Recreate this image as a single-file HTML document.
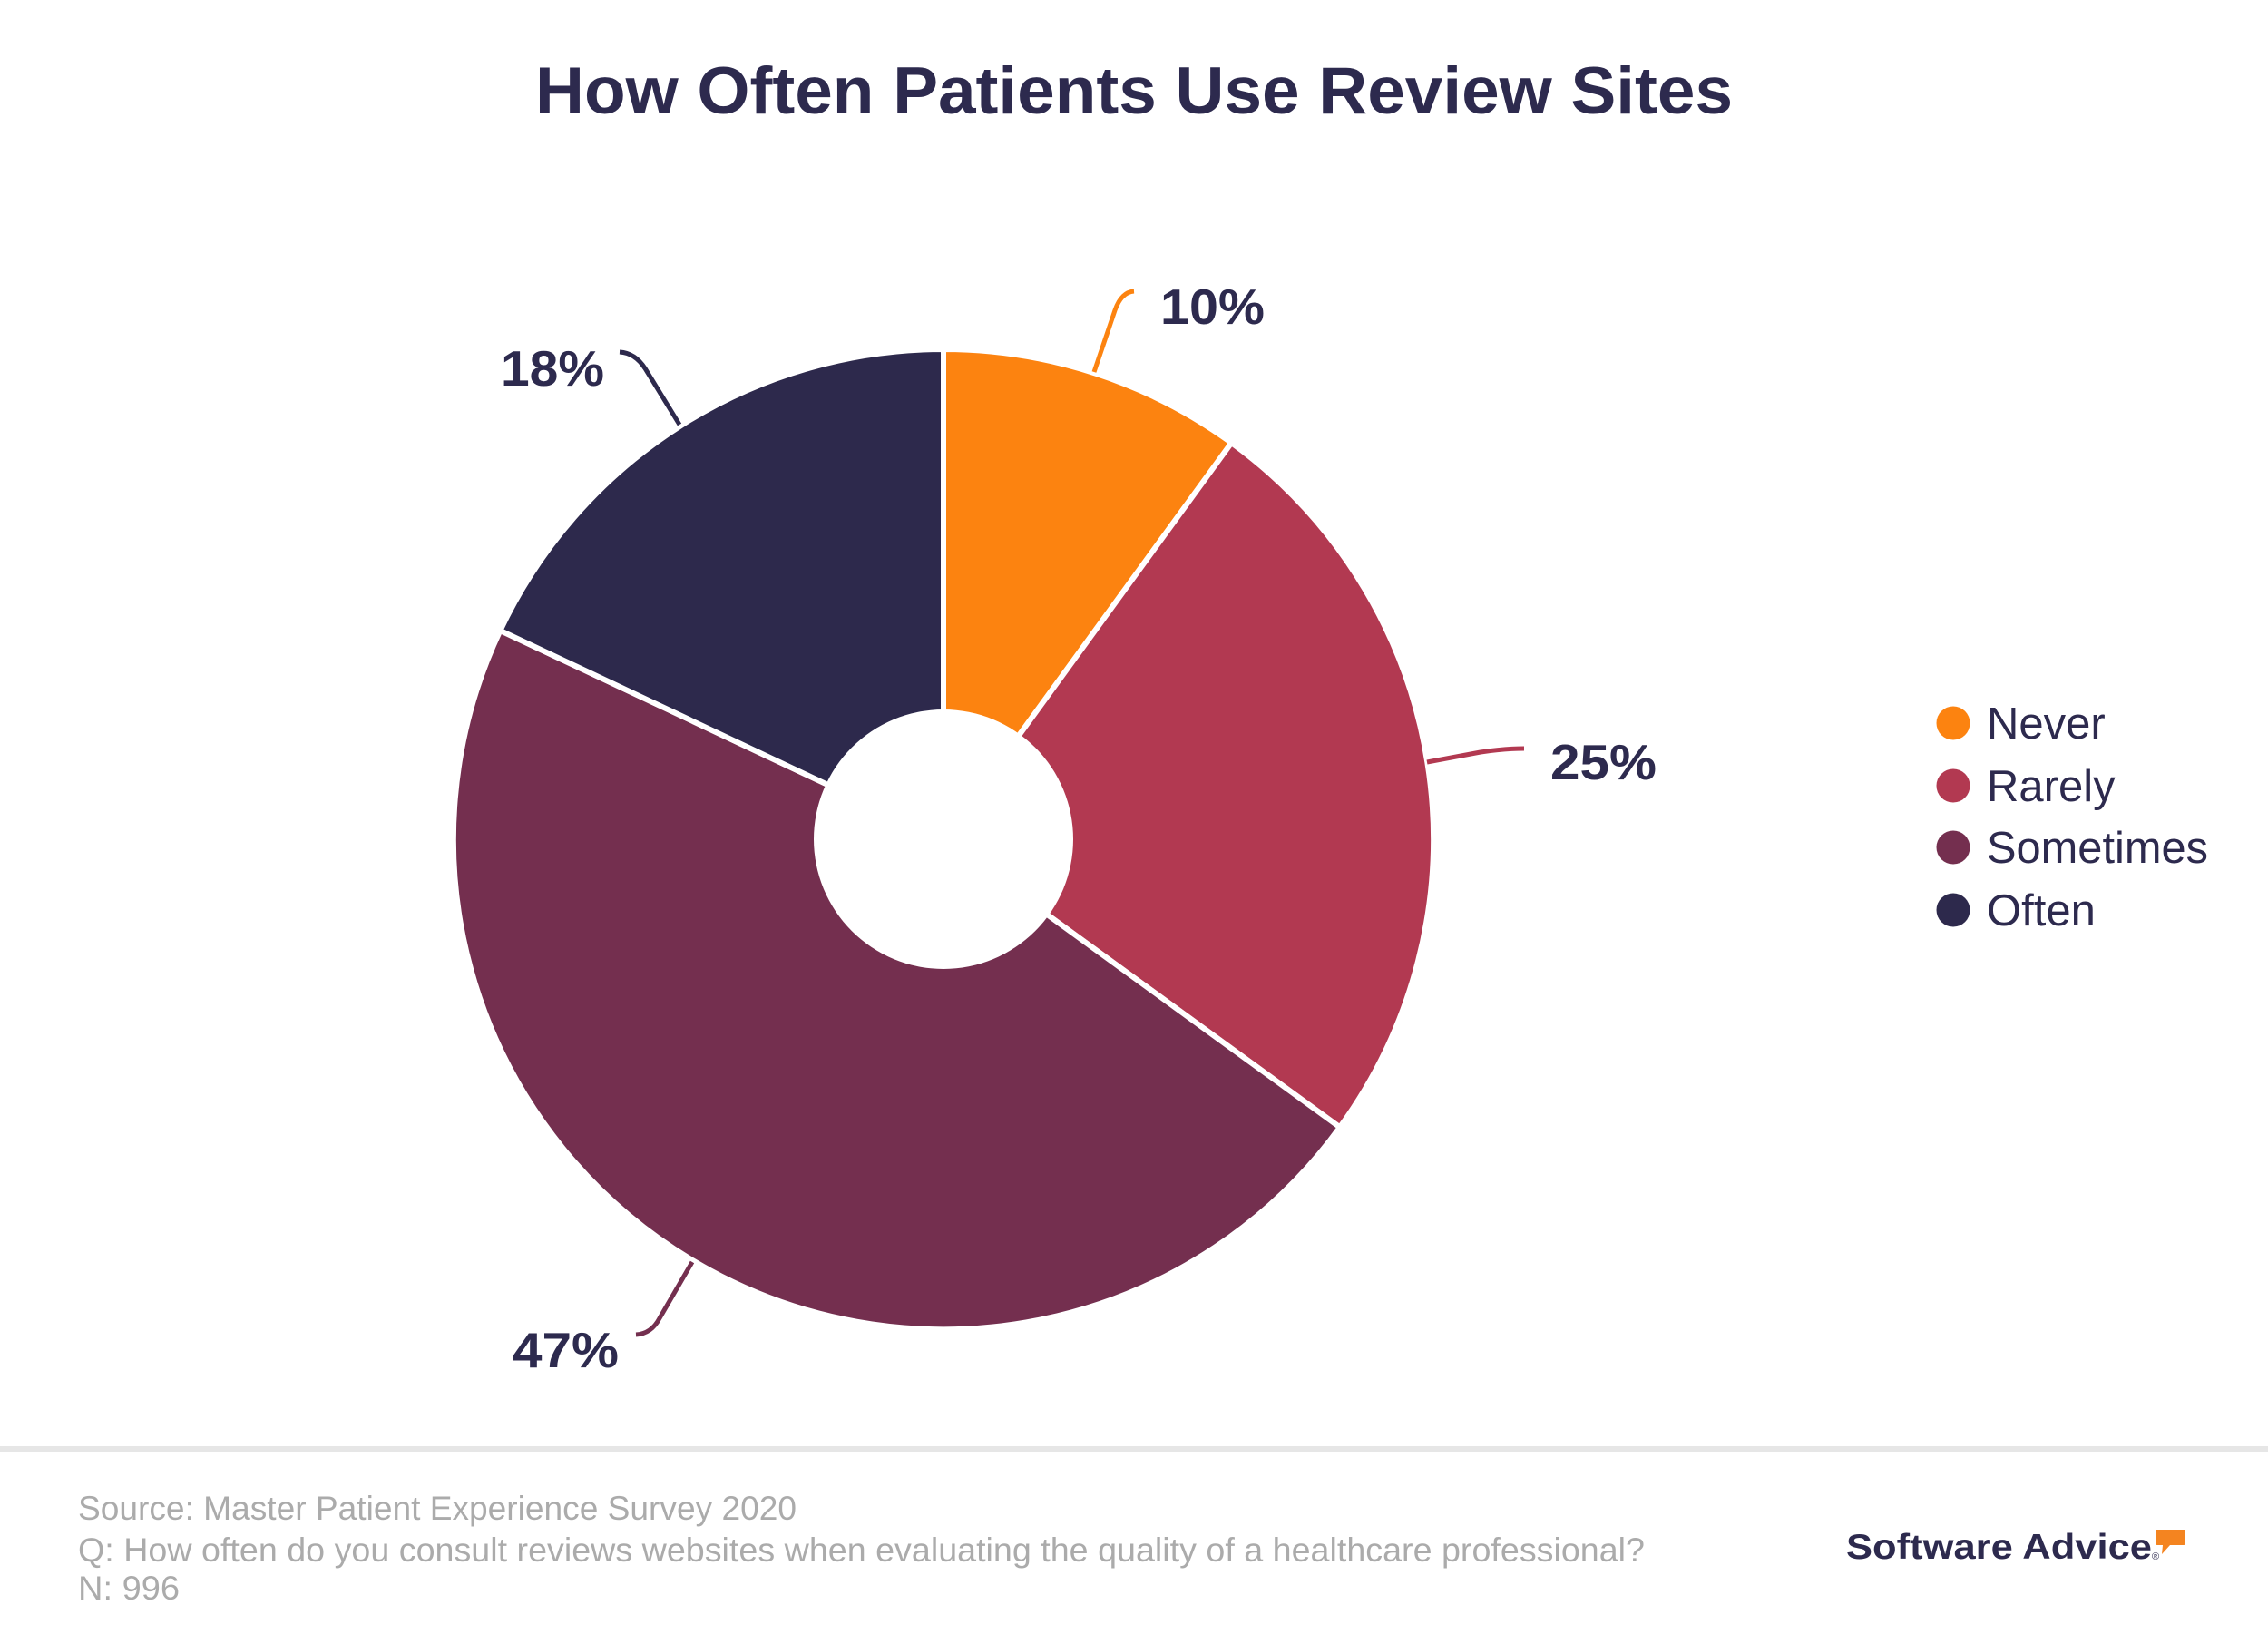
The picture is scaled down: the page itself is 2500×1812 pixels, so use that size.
<!DOCTYPE html>
<html>
<head>
<meta charset="utf-8">
<style>
  html,body{margin:0;padding:0;background:#fff;}
  svg{display:block;}
  text{font-family:"Liberation Sans", Arial, sans-serif;}
</style>
</head>
<body>
<svg xmlns="http://www.w3.org/2000/svg" width="2500" height="1812" viewBox="0 0 2500 1812">
  <rect x="0" y="0" width="2500" height="1812" fill="#ffffff"/>

  <!-- Title -->
  <text x="1250" y="125" text-anchor="middle" font-size="73" font-weight="bold" fill="#2D2A4E" textLength="1320" lengthAdjust="spacingAndGlyphs">How Often Patients Use Review Sites</text>

  <!-- Donut slices -->
  <g stroke="#ffffff" stroke-width="6" stroke-linejoin="miter">
    <path d="M1040,925 L1040,385 A540,540 0 0 1 1357.4,488.1 Z" fill="#FC8310"/>
    <path d="M1040,925 L1357.4,488.1 A540,540 0 0 1 1476.9,1242.4 Z" fill="#B23951"/>
    <path d="M1040,925 L1476.9,1242.4 A540,540 0 0 1 551.4,695.0 Z" fill="#742F4F"/>
    <path d="M1040,925 L551.4,695.0 A540,540 0 0 1 1040,385 Z" fill="#2D294C"/>
  </g>
  <circle cx="1040" cy="925" r="143" fill="#ffffff"/>

  <!-- Leader lines -->
  <g fill="none" stroke-width="5" stroke-linecap="butt">
    <path d="M1206,410 L1229,342 Q1236,322 1250,321" stroke="#FC8310"/>
    <path d="M749,468 L711,406 Q700,389 683,388" stroke="#2D294C"/>
    <path d="M1573,840 L1632,829 Q1660,825 1680,825" stroke="#B23951"/>
    <path d="M763,1391 L727,1453 Q718,1470 701,1471" stroke="#742F4F"/>
  </g>

  <!-- Labels -->
  <g font-size="55" font-weight="bold" fill="#2D2A4E">
    <text x="1279" y="357" textLength="115" lengthAdjust="spacingAndGlyphs">10%</text>
    <text x="552" y="425" textLength="114" lengthAdjust="spacingAndGlyphs">18%</text>
    <text x="1709" y="859" textLength="117" lengthAdjust="spacingAndGlyphs">25%</text>
    <text x="565" y="1507" textLength="117" lengthAdjust="spacingAndGlyphs">47%</text>
  </g>

  <!-- Legend -->
  <circle cx="2153" cy="797" r="18.5" fill="#FC8310"/>
  <circle cx="2153" cy="866" r="18.5" fill="#B23951"/>
  <circle cx="2153" cy="934" r="18.5" fill="#742F4F"/>
  <circle cx="2153" cy="1003" r="18.5" fill="#2D294C"/>
  <g font-size="49" fill="#2D2A4E">
    <text x="2190" y="814">Never</text>
    <text x="2190" y="883">Rarely</text>
    <text x="2190" y="951" textLength="244" lengthAdjust="spacingAndGlyphs">Sometimes</text>
    <text x="2190" y="1020">Often</text>
  </g>

  <!-- Footer separator -->
  <rect x="0" y="1594" width="2500" height="6" fill="#E6E6E6"/>

  <!-- Footer text -->
  <g font-size="37" fill="#ABABAB">
    <text x="86" y="1675" textLength="792" lengthAdjust="spacingAndGlyphs">Source: Master Patient Experience Survey 2020</text>
    <text x="86" y="1721" textLength="1727" lengthAdjust="spacingAndGlyphs">Q: How often do you consult reviews websites when evaluating the quality of a healthcare professional?</text>
    <text x="86" y="1763" textLength="112" lengthAdjust="spacingAndGlyphs">N: 996</text>
  </g>

  <!-- Logo -->
  <text x="2035" y="1718" font-size="39" font-weight="bold" fill="#2D2A4E" textLength="337" lengthAdjust="spacingAndGlyphs">Software Advice</text>
  <text x="2372" y="1719" font-size="11" fill="#2D2A4E">®</text>
  <path d="M2376,1686 L2408,1686 Q2409,1686 2409,1688 L2409,1701 Q2409,1703 2407,1703 L2392,1703 L2383,1713 L2384,1703 L2378,1703 Q2376,1703 2376,1701 Z" fill="#F48420"/>
</svg>
</body>
</html>
